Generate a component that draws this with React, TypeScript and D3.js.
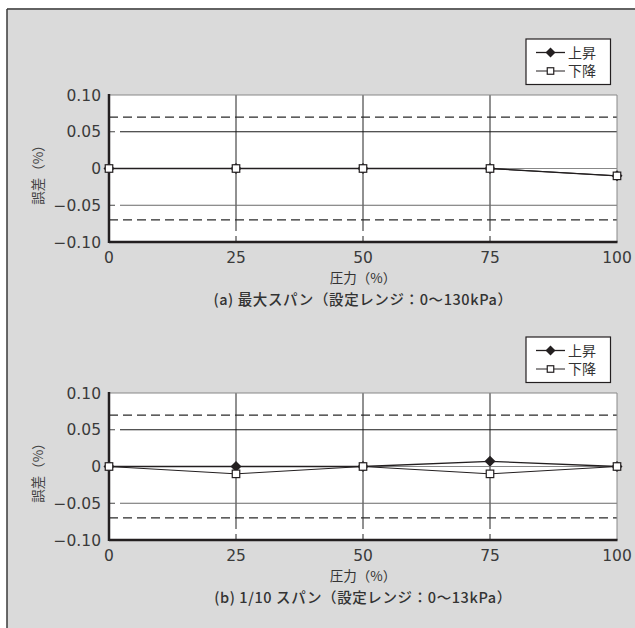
import React from "react";
import * as d3 from "d3";

// chart values
const pressure = [0, 25, 50, 75, 100];
const riseA = [0, 0, 0, 0, -0.01];
const fallA = [0, 0, 0, 0, -0.01];
const riseB = [0, 0, 0, 0.007, 0];
const fallB = [0, -0.01, 0, -0.01, 0];
const yTicks = [0.1, 0.05, 0, -0.05, -0.1];
const yTickLabels = ["0.10", "0.05", "0", "\u22120.05", "\u22120.10"];
const xTickLabels = ["0", "25", "50", "75", "100"];
const limits = [0.07, -0.07];
const legendLabels = ["上昇", "下降"];
const captions = [
  "(a) 最大スパン（設定レンジ：0～130kPa）",
  "(b) 1/10 スパン（設定レンジ：0～13kPa）",
];

const W = 635;
const H = 628;
const NUM = "'DejaVu Sans', sans-serif";
const JP = "'Noto Sans CJK JP', sans-serif";
const INK = "#231f20";

const Diamond = ({ x, y, r = 5 }) => (
  <path
    d={`M${x},${y - r}L${x + r},${y}L${x},${y + r}L${x - r},${y}Z`}
    fill={INK}
  />
);

const Square = ({ x, y, s = 6 }) => (
  <rect
    x={x - s / 2}
    y={y - s / 2}
    width={s}
    height={s}
    fill="#fff"
    stroke={INK}
    strokeWidth={1.2}
  />
);

const Panel = ({ top, rise, fall, caption }) => {
  const left = 109;
  const right = 617;
  const bottom = top + 147;
  const x = d3.scaleLinear().domain([0, 100]).range([left, right]);
  const y = d3.scaleLinear().domain([-0.1, 0.1]).range([bottom, top]);
  const line = d3
    .line<number>()
    .x((_, i) => x(pressure[i]))
    .y((d) => y(d));

  const legX = 526;
  const legY = top - 56;

  return (
    <g>
      <rect x={left} y={top} width={right - left} height={bottom - top} fill="#fff" />
      {/* vertical grid */}
      {[25, 50, 75].map((v) => (
        <g key={v}>
          <line x1={x(v)} x2={x(v)} y1={top} y2={bottom - 11} stroke="#222" strokeWidth={1} />
          <line x1={x(v)} x2={x(v)} y1={bottom - 6} y2={bottom} stroke="#222" strokeWidth={1} />
        </g>
      ))}
      {/* horizontal grid */}
      {[0.05, -0.05].map((v) => (
        <g key={v}>
          <line x1={left + 11} x2={right} y1={y(v)} y2={y(v)} stroke={v > 0 ? "#1a1a1a" : "#6a6a6a"} strokeWidth={1} />
          <line x1={left} x2={left + 6} y1={y(v)} y2={y(v)} stroke="#444" strokeWidth={1} />
        </g>
      ))}
      <line x1={left} x2={right} y1={y(0)} y2={y(0)} stroke="#888" strokeWidth={1} />
      {limits.map((v) => (
        <line
          key={v}
          x1={left}
          x2={right}
          y1={y(v)}
          y2={y(v)}
          stroke="#2a2a2a"
          strokeWidth={1.3}
          strokeDasharray="9,5"
        />
      ))}
      {/* frame */}
      <line x1={left} x2={right} y1={top} y2={top} stroke="#888" strokeWidth={1} />
      <line x1={right} x2={right} y1={top} y2={bottom} stroke="#888" strokeWidth={1} />
      <line x1={left} x2={right + 0.5} y1={bottom} y2={bottom} stroke={INK} strokeWidth={2.5} />
      <line x1={left} x2={left} y1={top - 1} y2={bottom + 1} stroke={INK} strokeWidth={2.5} />

      {/* series */}
      <path d={line(rise) ?? ""} fill="none" stroke={INK} strokeWidth={1.3} />
      <path d={line(fall) ?? ""} fill="none" stroke={INK} strokeWidth={1} />
      {rise.map((d, i) => (
        <Diamond key={"r" + i} x={x(pressure[i])} y={y(d)} r={5.5} />
      ))}
      {fall.map((d, i) => (
        <Square key={"f" + i} x={x(pressure[i])} y={y(d)} s={7.5} />
      ))}

      {/* y ticks */}
      {yTicks.map((v, i) => (
        <text
          key={v}
          x={101}
          y={y(v)}
          dy="0.36em"
          textAnchor="end"
          fontFamily={NUM}
          fontSize={15.5}
          fill="#3a3a3a"
        >
          {yTickLabels[i]}
        </text>
      ))}
      {/* x ticks */}
      {pressure.map((v, i) => (
        <text
          key={v}
          x={x(v)}
          y={bottom + 21}
          textAnchor="middle"
          fontFamily={NUM}
          fontSize={15.5}
          fill="#3a3a3a"
        >
          {xTickLabels[i]}
        </text>
      ))}
      <text
        transform={`translate(43,${y(0) + 3}) rotate(-90)`}
        textAnchor="middle"
        fontFamily={JP}
        fontSize={13.5}
        fill="#444"
      >
        誤差（%）
      </text>
      <text x={x(50)} y={bottom + 41} textAnchor="middle" fontFamily={JP} fontSize={13.5} fill="#333">
        圧力（%）
      </text>
      <text
        x={363}
        y={bottom + 63}
        textAnchor="middle"
        fontFamily={JP}
        fontSize={14.5}
        fontWeight={500}
        letterSpacing={0.6}
        fill="#333"
      >
        {caption}
      </text>

      {/* legend */}
      <rect x={legX} y={legY} width={84.5} height={45.5} fill="#fff" stroke={INK} strokeWidth={1.2} />
      <line x1={legX + 10} x2={legX + 39} y1={legY + 13.5} y2={legY + 13.5} stroke={INK} strokeWidth={1.3} />
      <Diamond x={legX + 24.5} y={legY + 13.5} r={5} />
      <line x1={legX + 10} x2={legX + 39} y1={legY + 32} y2={legY + 32} stroke={INK} strokeWidth={1} />
      <Square x={legX + 24.5} y={legY + 32} s={6.5} />
      {legendLabels.map((l, i) => (
        <text
          key={l}
          x={legX + 42}
          y={legY + 13.5 + i * 18.5}
          dy="0.36em"
          fontFamily={JP}
          fontSize={14}
          fill="#333"
        >
          {l}
        </text>
      ))}
    </g>
  );
};

export default function App() {
  return (
    <svg
      width={W}
      height={H}
      style={{ position: "absolute", left: 0, top: 0, background: "#fff" }}
    >
      <rect x={7} y={8} width={W} height={H} fill="#dadada" />
      <line x1={7} x2={W} y1={9} y2={9} stroke="#3a3a3a" strokeWidth={1.5} />
      <line x1={7} x2={7} y1={9} y2={H} stroke="#3a3a3a" strokeWidth={1.5} />
      <Panel top={95} rise={riseA} fall={fallA} caption={captions[0]} />
      <Panel top={393} rise={riseB} fall={fallB} caption={captions[1]} />
    </svg>
  );
}
